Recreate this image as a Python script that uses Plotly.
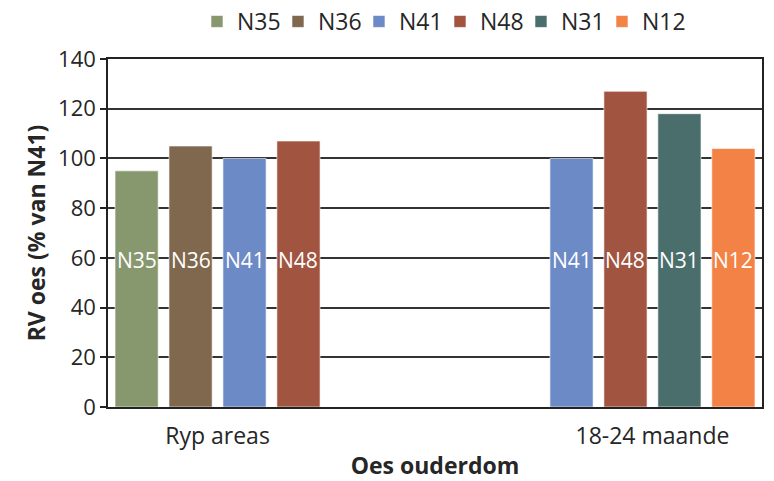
import plotly.graph_objects as go

# Data
categories = ["Ryp areas", "18-24 maande"]
series_names = ["N35", "N36", "N41", "N48", "N31", "N12"]
values = {
    "N35": [95, None],
    "N36": [105, None],
    "N41": [100, 100],
    "N48": [107, 127],
    "N31": [None, 118],
    "N12": [None, 104],
}
colors = {
    "N35": "#87986F",
    "N36": "#7F684E",
    "N41": "#6C8AC6",
    "N48": "#A15440",
    "N31": "#496E6C",
    "N12": "#F38246",
}
label_level = 59  # height of the in-bar series labels

bargap = 0.01
n = len(series_names)
slot = (1 - bargap) / n
xpos = list(range(len(categories)))

fig = go.Figure()
for s in series_names:
    fig.add_trace(go.Bar(
        name=s, x=xpos, y=values[s],
        marker=dict(color=colors[s], line=dict(color="rgba(255,255,255,0.6)", width=1)),
    ))

# blank trailing legend entry so the last label is not clipped by the fixed entry width
fig.add_trace(go.Scatter(
    x=[None], y=[None], name="", mode="markers",
    marker=dict(color="rgba(0,0,0,0)"), hoverinfo="skip", showlegend=True,
))

# in-bar labels and tick positions centred on the bars actually present
annotations = []
tickvals = []
for ci in xpos:
    offs = []
    for si, s in enumerate(series_names):
        v = values[s][ci]
        if v is None:
            continue
        off = (si - (n - 1) / 2) * slot
        offs.append(off)
        annotations.append(dict(
            x=ci + off, y=label_level, text=s, showarrow=False,
            font=dict(color="white", size=21, family="Open Sans"),
            xref="x", yref="y",
        ))
    tickvals.append(ci + sum(offs) / len(offs))

fig.update_layout(
    width=774, height=481,
    margin=dict(l=108, r=12, t=59, b=74, autoexpand=False),
    plot_bgcolor="white", paper_bgcolor="white",
    barmode="group", bargap=bargap, bargroupgap=0.2,
    font=dict(family="Open Sans", color="#262626", size=22),
    legend=dict(orientation="h", x=0.2545, xanchor="left", y=1.0, yanchor="top",
                xref="container", yref="container", font=dict(size=23), itemwidth=30,
                entrywidth=36, entrywidthmode="pixels",
                traceorder="normal"),
    annotations=annotations,
)
fig.update_xaxes(
    range=[-0.5, 1.5], tickmode="array", tickvals=tickvals, ticktext=categories,
    showgrid=False, zeroline=False, showline=True, linecolor="#222", linewidth=1.5,
    mirror=True, ticks="", tickfont=dict(size=23), ticklabelstandoff=8,
    title=dict(text="<b>Oes ouderdom</b>", font=dict(size=23), standoff=10),
)
fig.update_yaxes(
    range=[0, 140], dtick=20, showgrid=True, gridcolor="#333", gridwidth=1.5,
    zeroline=False, showline=True, linecolor="#222", linewidth=1.5, mirror=True,
    ticks="outside", ticklen=6, tickcolor="#222", tickwidth=1.5,
    tickfont=dict(size=22),
    title=dict(text="<b>RV oes (% van N41)</b>", font=dict(size=23), standoff=6),
)

fig.write_html("out.html")
